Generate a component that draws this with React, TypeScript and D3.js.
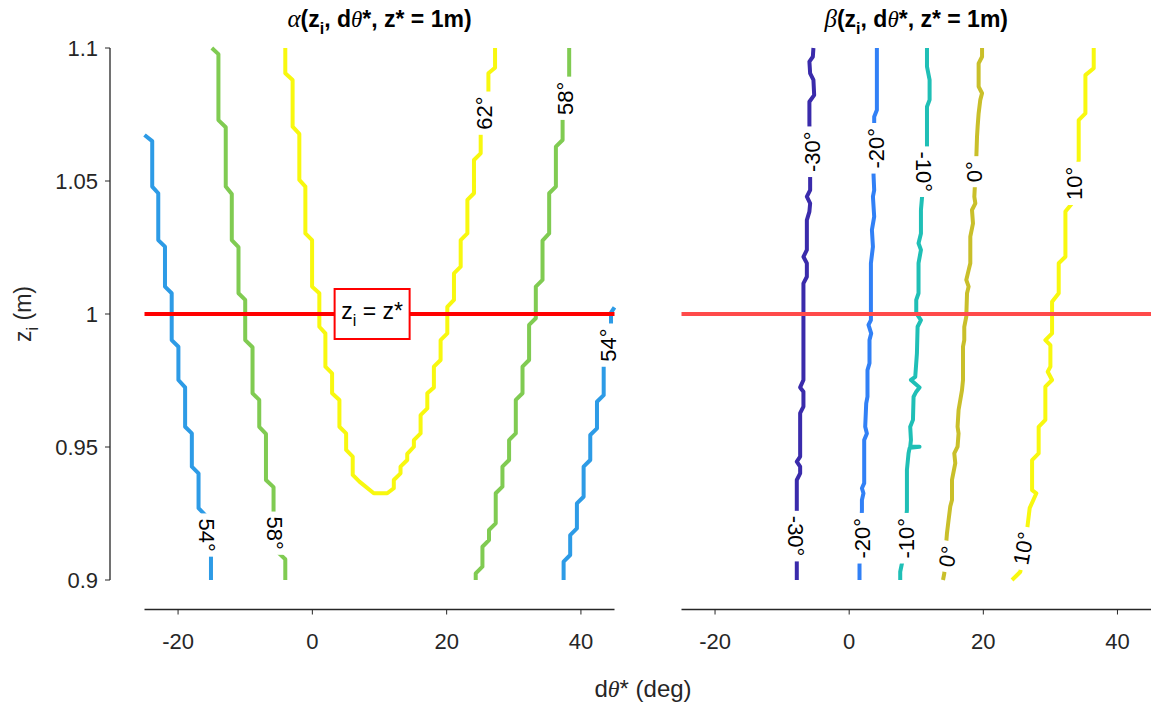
import React from 'react';
import * as d3 from 'd3';

type Pt = [number, number];
type Label = [number, number, number, number]; // level, dθ*, z_i, text angle

// Shared axis settings
const X_DOMAIN: [number, number] = [-25, 45];
const Z_DOMAIN: [number, number] = [0.9, 1.1];
const X_TICKS = [-20, 0, 20, 40];
const Z_TICKS = [0.9, 0.95, 1, 1.05, 1.1];
const Z_TICK_LABELS = ['0.9', '0.95', '1', '1.05', '1.1'];
const Z_STAR = 1;
const Z_STAR_BOX_X = 8.9;

// α contours (deg), each a polyline of [dθ*, z_i]
const ALPHA_LEVELS = [54, 58, 62, 58, 54];
const alpha54Left: Pt[] = [
  [-25.0, 1.0673], [-23.85, 1.065], [-23.85, 1.0479], [-22.95, 1.0454], [-22.95, 1.0278],
  [-21.95, 1.0253], [-21.95, 1.0103], [-20.95, 1.0078], [-20.95, 0.9902], [-19.95, 0.9877],
  [-19.95, 0.9752], [-18.95, 0.9724], [-18.95, 0.9576], [-17.95, 0.9551], [-17.95, 0.9426],
  [-16.95, 0.9401], [-16.95, 0.927], [-15.95, 0.9244], [-15.95, 0.9175], [-15.1, 0.915],
  [-15.1, 0.9],
];
const alpha58Left: Pt[] = [
  [-14.97, 1.1], [-13.99, 1.0977], [-13.99, 1.0729], [-12.9, 1.0702], [-12.9, 1.0479],
  [-12.0, 1.0451], [-12.0, 1.0278], [-11.0, 1.0251], [-11.0, 1.0078], [-10.0, 1.0053],
  [-10.0, 0.9902], [-8.91, 0.9875], [-8.91, 0.9702], [-7.91, 0.9677], [-7.91, 0.9576],
  [-6.91, 0.9549], [-6.91, 0.9376], [-5.78, 0.9349], [-5.78, 0.912], [-4.03, 0.9078],
  [-4.03, 0.9],
];
const alpha62: Pt[] = [
  [-4.03, 1.1], [-4.03, 1.0905], [-2.94, 1.088], [-2.94, 1.0704], [-1.94, 1.0677],
  [-1.94, 1.0504], [-1.04, 1.0479], [-1.04, 1.0303], [-0.04, 1.0278], [-0.04, 1.0103],
  [1.04, 1.0078], [1.04, 0.9952], [1.94, 0.9927], [1.94, 0.9802], [2.94, 0.9777],
  [2.94, 0.9702], [4.03, 0.9677], [4.03, 0.9576], [5.03, 0.9551], [5.03, 0.9489],
  [6.01, 0.9464], [6.01, 0.9395], [7.01, 0.937], [9.15, 0.9326], [11.15, 0.9326],
  [12.13, 0.9345], [12.13, 0.9376], [13.13, 0.9401], [13.13, 0.9426], [14.13, 0.9451],
  [14.13, 0.9474], [15.12, 0.9501], [15.12, 0.9526], [16.12, 0.9551], [16.12, 0.962],
  [17.12, 0.9645], [17.12, 0.9702], [18.1, 0.9724], [18.1, 0.9802], [19.1, 0.9827],
  [19.1, 0.9902], [20.1, 0.9927], [20.1, 1.0027], [21.09, 1.0053], [21.09, 1.0153],
  [22.09, 1.0178], [22.09, 1.0278], [23.09, 1.0303], [23.09, 1.0429], [24.07, 1.0454],
  [24.07, 1.0579], [25.07, 1.0604], [25.07, 1.075], [26.22, 1.078], [26.22, 1.0905],
  [27.21, 1.0926], [27.21, 1.1],
];
const alpha58Right: Pt[] = [
  [38.25, 1.1], [38.25, 1.078], [37.27, 1.075], [37.27, 1.0654], [36.27, 1.0629],
  [36.27, 1.0479], [35.27, 1.0454], [35.27, 1.0303], [34.28, 1.0276], [34.28, 1.0128],
  [33.28, 1.0103], [33.28, 0.9984], [32.28, 0.9959], [32.28, 0.9827], [31.3, 0.9802],
  [31.3, 0.9702], [30.3, 0.9677], [30.3, 0.9551], [29.3, 0.9526], [29.3, 0.9451],
  [28.31, 0.9426], [28.31, 0.9351], [27.31, 0.9326], [27.31, 0.9213], [26.31, 0.9188],
  [26.31, 0.915], [25.33, 0.9125], [25.33, 0.905], [24.33, 0.9025], [24.33, 0.9],
];
const alpha54Right: Pt[] = [
  [45.0, 1.0025], [44.48, 1.0005], [44.48, 0.9965], [44.48, 0.986], [43.39, 0.9835],
  [43.39, 0.9695], [42.39, 0.967], [42.39, 0.957], [41.39, 0.9545], [41.39, 0.9451],
  [40.4, 0.9426], [40.4, 0.9313], [39.4, 0.9288], [39.4, 0.9194], [38.4, 0.9169],
  [38.4, 0.9094], [37.42, 0.9069], [37.42, 0.9],
];
const alphaLines = [alpha54Left, alpha58Left, alpha62, alpha58Right, alpha54Right];
const alphaLabels: Label[] = [
  [54, -15.67, 0.9169, 90],
  [58, -5.52, 0.9176, 90],
  [62, 25.6, 1.0755, -90],
  [58, 37.6, 1.0811, -90],
  [54, 44.0, 0.9883, -90],
];

// β contours (deg)
const BETA_LEVELS = [-30, -20, -10, 0, 10];
const betaM30: Pt[] = [
  [-5.33, 1.1], [-5.42, 1.0967], [-5.93, 1.0949], [-5.82, 1.0905], [-5.33, 1.088],
  [-5.22, 1.0823], [-5.93, 1.0798], [-5.93, 1.0717], [-5.82, 1.051], [-5.82, 1.0466],
  [-6.31, 1.0441], [-5.82, 1.0416], [-5.93, 1.0385], [-6.31, 1.0353], [-6.31, 1.0241],
  [-6.82, 1.0215], [-6.31, 1.0191], [-6.31, 1.014], [-6.82, 1.0115], [-6.82, 0.9752],
  [-7.31, 0.9724], [-6.82, 0.9708], [-6.82, 0.9652], [-7.31, 0.9627], [-7.31, 0.9464],
  [-7.81, 0.9445], [-7.31, 0.9426], [-7.31, 0.9401], [-7.81, 0.9376], [-7.81, 0.9],
];
const betaM20: Pt[] = [
  [4.13, 1.1], [4.13, 1.0767], [3.73, 1.0742], [3.73, 1.0723], [3.63, 1.0523],
  [3.73, 1.0466], [3.54, 1.0441], [3.73, 1.0366], [3.39, 1.0316], [3.54, 1.0253],
  [3.24, 1.0191], [3.24, 0.9977], [2.88, 0.9959], [3.28, 0.9927], [3.03, 0.9902],
  [3.03, 0.9815], [2.73, 0.9789], [2.73, 0.9689], [2.54, 0.9664], [2.39, 0.9576],
  [2.64, 0.9551], [2.24, 0.9526], [2.24, 0.9364], [1.9, 0.9345], [2.13, 0.9326],
  [1.9, 0.9301], [1.9, 0.9263], [1.54, 0.9056], [1.54, 0.9],
];
const betaM10: Pt[] = [
  [11.6, 1.1], [11.6, 1.093], [11.99, 1.088], [11.99, 1.0805], [11.6, 1.0779],
  [11.6, 1.0629], [10.85, 1.0435], [10.7, 1.0391], [10.7, 1.0303], [10.34, 1.0266],
  [10.7, 1.0241], [10.34, 1.0191], [10.34, 1.0078], [10.0, 1.0053], [10.0, 1.0003],
  [10.7, 0.9977], [10.2, 0.9952], [10.1, 0.9852], [9.85, 0.9764], [9.21, 0.9752],
  [10.49, 0.9724], [10.0, 0.9708], [9.6, 0.9689], [9.51, 0.9602], [9.1, 0.9576],
  [9.21, 0.9526], [9.1, 0.9501], [10.49, 0.9501], [9.1, 0.9497], [9.0, 0.9495],
  [8.85, 0.9476], [8.61, 0.9414], [8.61, 0.9263], [7.87, 0.9063], [7.61, 0.9031],
  [7.61, 0.9],
];
const beta0: Pt[] = [
  [19.81, 1.1], [19.81, 1.0967], [19.3, 1.0942], [19.3, 1.0855], [19.81, 1.083],
  [19.55, 1.0805], [19.3, 1.0754], [19.15, 1.0704], [19.06, 1.0667], [18.96, 1.0591],
  [18.66, 1.0441], [18.81, 1.0416], [18.31, 1.0391], [18.46, 1.0341], [18.06, 1.0291],
  [18.06, 1.0191], [17.81, 1.0165], [17.46, 1.0128], [17.81, 1.0103], [17.57, 1.0078],
  [17.46, 0.999], [17.16, 0.9952], [17.16, 0.9902], [16.97, 0.9877], [16.97, 0.9752],
  [16.82, 0.9714], [16.31, 0.9639], [16.16, 0.9576], [16.31, 0.9551], [16.16, 0.9501],
  [15.67, 0.9476], [15.82, 0.9439], [15.33, 0.9376], [15.33, 0.9301], [15.07, 0.9276],
  [14.82, 0.9226], [14.58, 0.9176], [14.48, 0.9144], [14.18, 0.9025], [13.99, 0.9],
];
const beta10: Pt[] = [
  [36.46, 1.1], [36.46, 1.0924], [35.22, 1.0898], [35.22, 1.0754], [34.22, 1.0729],
  [34.22, 1.0579], [33.24, 1.0416], [32.24, 1.0385], [32.24, 1.0215], [31.24, 1.0191],
  [31.24, 1.0078], [30.25, 1.0046], [30.25, 0.9927], [29.25, 0.9902], [30.0, 0.9883],
  [30.0, 0.9802], [29.6, 0.9783], [30.25, 0.9752], [29.25, 0.9727], [29.25, 0.9602],
  [28.25, 0.9576], [28.25, 0.9476], [27.27, 0.9451], [27.27, 0.9338], [27.91, 0.9326],
  [26.91, 0.927], [26.52, 0.9188], [25.52, 0.9031], [24.28, 0.9],
];
const betaLines = [betaM30, betaM20, betaM10, beta0, beta10];
const betaLabels: Label[] = [
  [-30, -5.57, 1.061, -90],
  [-30, -7.91, 0.9165, 90],
  [-20, 4.03, 1.0623, -90],
  [-20, 1.9, 0.9157, -90],
  [-10, 11.09, 1.0535, 90],
  [-10, 8.51, 0.9157, -90],
  [0, 18.66, 1.0535, -90],
  [0, 14.67, 0.9088, -80],
  [10, 33.58, 1.0491, -90],
  [10, 25.93, 0.9119, -80],
];

const ALPHA_COLORS: Record<number, string> = { 54: '#2d9be6', 58: '#80cb52', 62: '#f8f80f' };
const BETA_COLORS: Record<number, string> = {
  [-30]: '#3a2bab', [-20]: '#3180f6', [-10]: '#1fbfb6', 0: '#c9bf2a', 10: '#f8f80f',
};

const FONT = "'Liberation Sans', Arial, Helvetica, sans-serif";
const SERIF = "'Liberation Serif', 'DejaVu Serif', serif";
const AXIS = '#262626';

const Y_TOP = 48;
const Y_BOT = 580;
const X_AXIS_Y = 609.5;

const charW = (s: string, fs: number) =>
  Array.from(s).reduce((w, c) => w + (c === '-' ? 0.333 : c === '°' ? 0.4 : 0.556) * fs, 0);

function Panel({
  x0, x1, lines, levels, colors, labels, starColor,
}: {
  x0: number; x1: number; lines: Pt[][]; levels: number[];
  colors: Record<number, string>; labels: Label[]; starColor: string;
}) {
  const x = d3.scaleLinear().domain(X_DOMAIN).range([x0, x1]);
  const y = d3.scaleLinear().domain(Z_DOMAIN).range([Y_BOT, Y_TOP]);
  const line = d3.line<Pt>().x((d) => x(d[0])).y((d) => y(d[1]));
  const fs = 22;
  return (
    <g>
      {lines.map((pts, i) => (
        <path key={i} d={line(pts) ?? ''} fill="none" stroke={colors[levels[i]]}
          strokeWidth={4} strokeLinejoin="round" strokeLinecap="butt" />
      ))}
      <line x1={x(X_DOMAIN[0])} x2={x(X_DOMAIN[1])} y1={y(Z_STAR)} y2={y(Z_STAR)}
        stroke={starColor} strokeWidth={4} />
      {labels.map(([lev, lx, lz, ang], i) => {
        const txt = `${lev}°`;
        const w = charW(txt, fs) + 10;
        return (
          <g key={i} transform={`translate(${x(lx)},${y(lz)}) rotate(${ang})`}>
            <rect x={-w / 2} y={-10} width={w} height={20} fill="#fff" />
            <text textAnchor="middle" dy="0.36em" fontSize={fs} fill="#000">{txt}</text>
          </g>
        );
      })}
      {/* bottom axis */}
      <line x1={x0} x2={x1} y1={X_AXIS_Y} y2={X_AXIS_Y} stroke={AXIS} strokeWidth={1.3} />
      {X_TICKS.map((t) => (
        <g key={t}>
          <line x1={x(t)} x2={x(t)} y1={X_AXIS_Y} y2={X_AXIS_Y + 5} stroke={AXIS} strokeWidth={1} />
          <text x={x(t)} y={X_AXIS_Y + 39} textAnchor="middle" fontSize={22} fill={AXIS}>{t}</text>
        </g>
      ))}
    </g>
  );
}

export default function App() {
  const W = 1151;
  const H = 711;
  const xL = d3.scaleLinear().domain(X_DOMAIN).range([144.5, 614.5]);
  const y = d3.scaleLinear().domain(Z_DOMAIN).range([Y_BOT, Y_TOP]);
  const axisX = 110;
  const boxX = xL(Z_STAR_BOX_X);
  const boxY = y(Z_STAR);

  return (
    <svg width={W} height={H} viewBox={`0 0 ${W} ${H}`} fontFamily={FONT}
      style={{ position: 'absolute', left: 0, top: 0, background: '#fff' }}>
      <rect width={W} height={H} fill="#fff" />

      <Panel x0={144.5} x1={614.5} lines={alphaLines} levels={ALPHA_LEVELS}
        colors={ALPHA_COLORS} labels={alphaLabels} starColor="#ff0000" />
      <Panel x0={681.5} x1={1151} lines={betaLines} levels={BETA_LEVELS}
        colors={BETA_COLORS} labels={betaLabels} starColor="#ff4a4a" />

      {/* z_i = z* annotation */}
      <g transform={`translate(${boxX},${boxY})`}>
        <rect x={-37.5} y={-25} width={75} height={50} fill="#fff" stroke="#ff0000" strokeWidth={2} />
        <text x={0} y={5} textAnchor="middle" fontSize={23} fill="#000">
          z<tspan dy={7} fontSize={16}>i</tspan><tspan dy={-7}> = z*</tspan>
        </text>
      </g>

      {/* left axis */}
      <line x1={axisX} x2={axisX} y1={Y_TOP} y2={Y_BOT} stroke={AXIS} strokeWidth={1.3} />
      {Z_TICKS.map((t, i) => (
        <g key={t}>
          <line x1={axisX - 5} x2={axisX} y1={y(t)} y2={y(t)} stroke={AXIS} strokeWidth={1} />
          <text x={axisX - 12} y={y(t)} dy="0.36em" textAnchor="end" fontSize={22} fill={AXIS}>
            {Z_TICK_LABELS[i]}
          </text>
        </g>
      ))}
      <text transform={`translate(31,${y(1)}) rotate(-90)`} textAnchor="middle" fontSize={23} fill={AXIS}>
        z<tspan dy={7} fontSize={16}>i</tspan><tspan dy={-7}> (m)</tspan>
      </text>

      {/* shared x label */}
      <text x={643} y={697} textAnchor="middle" fontSize={24} fill={AXIS}>
        d<tspan fontFamily={SERIF} fontStyle="italic">θ</tspan>* (deg)
      </text>

      {/* titles */}
      <text x={(144.5 + 614.5) / 2} y={27} textAnchor="middle" fontSize={23} fontWeight="bold" fill="#000">
        <tspan fontFamily={SERIF} fontStyle="italic" fontWeight="normal" fontSize={25}>α</tspan>(z
        <tspan dy={7} fontSize={16}>i</tspan><tspan dy={-7}>, d</tspan>
        <tspan fontFamily={SERIF} fontStyle="italic" fontWeight="normal">θ</tspan>*, z* = 1m)
      </text>
      <text x={(681.5 + 1151) / 2} y={27} textAnchor="middle" fontSize={23} fontWeight="bold" fill="#000">
        <tspan fontFamily={SERIF} fontStyle="italic" fontWeight="normal" fontSize={25}>β</tspan>(z
        <tspan dy={7} fontSize={16}>i</tspan><tspan dy={-7}>, d</tspan>
        <tspan fontFamily={SERIF} fontStyle="italic" fontWeight="normal">θ</tspan>*, z* = 1m)
      </text>
    </svg>
  );
}
